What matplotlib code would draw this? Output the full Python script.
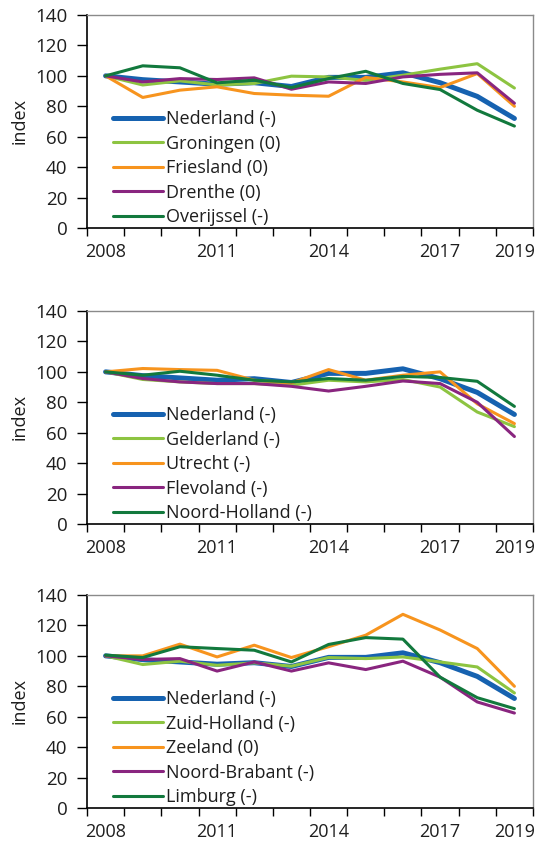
import numpy as np
import matplotlib
matplotlib.use("Agg")
import matplotlib.pyplot as plt

plt.rcParams['font.family'] = ['Open Sans', 'DejaVu Sans']

years = list(range(2008, 2020))
year_labels = ['2008', '2011', '2014', '2017', '2019']

nederland = [100, 97.5, 96, 94.5, 95.5, 93, 99, 99, 102, 95.5, 86.5, 72]

# panel 1
groningen = [100, 94, 96.7, 94, 95, 99.8, 99.3, 97, 100.4, 104.4, 108, 92]
friesland = [100, 85.8, 90.6, 92.8, 88.4, 87.3, 86.6, 99, 96, 92.3, 101.5, 80]
drenthe = [100, 96, 98.2, 97.6, 98.7, 91.2, 96, 95, 99.3, 101, 102, 82]
overijssel = [100, 106.6, 105.3, 95.4, 97.2, 92.3, 98.2, 103, 95, 91, 77.4, 67]

# panel 2
gelderland = [100, 95, 93.4, 92.3, 92.3, 91.2, 94.5, 93.4, 95, 90, 73.6, 64]
utrecht = [100, 102.2, 101.5, 101, 94.5, 92.7, 101.5, 94.5, 97.8, 100, 79, 66]
flevoland = [100, 95.6, 93.4, 92.3, 92.3, 90.5, 87.4, 90.5, 94, 92.3, 80, 57.5]
noord_holland = [100, 97.8, 100.4, 97.8, 94.5, 93.4, 95.6, 94.5, 97, 96.3, 93.8, 77.3]

# panel 3
zuid_holland = [100, 94.3, 96.5, 93.8, 95.4, 93.2, 98.9, 98.2, 99.3, 96, 92.7, 75.6]
zeeland = [100, 100, 107.7, 99.3, 107, 98.9, 106, 113.6, 127.3, 117, 104.8, 80]
noord_brabant = [100, 97.6, 98.2, 90, 96, 90, 95.4, 91, 96.5, 86, 69.7, 62.4]
limburg = [100.5, 98.9, 106, 104.8, 103.7, 96, 107.5, 112, 111, 86, 72.5, 65.3]

blue = '#1662B0'
lgreen = '#8DC441'
orange = '#F7941E'
purple = '#89257F'
dgreen = '#12793D'
colors = [blue, lgreen, orange, purple, dgreen]

panels = [
    (['Nederland (-)', 'Groningen (0)', 'Friesland (0)', 'Drenthe (0)', 'Overijssel (-)'],
     [nederland, groningen, friesland, drenthe, overijssel]),
    (['Nederland (-)', 'Gelderland (-)', 'Utrecht (-)', 'Flevoland (-)', 'Noord-Holland (-)'],
     [nederland, gelderland, utrecht, flevoland, noord_holland]),
    (['Nederland (-)', 'Zuid-Holland (-)', 'Zeeland (0)', 'Noord-Brabant (-)', 'Limburg (-)'],
     [nederland, zuid_holland, zeeland, noord_brabant, limburg]),
]

W, H = 545, 842
fig = plt.figure(figsize=(W / 100, H / 100), dpi=100)

tops = [15, 311, 595]
x = np.arange(len(years))
txt = '#1e1e1e'

for (names, series), top in zip(panels, tops):
    ax = fig.add_axes([87 / W, 1 - (top + 213) / H, 446 / W, 213 / H])
    for i, (name, vals) in enumerate(zip(names, series)):
        ax.plot(x, vals, color=colors[i], lw=3.6 if i == 0 else 2.2, label=name,
                solid_capstyle='round', solid_joinstyle='round')
    ax.set_xlim(-0.5, len(years) - 0.5)
    ax.set_ylim(0, 140)
    ax.set_yticks(range(0, 141, 20))
    # boundary ticks without labels, year labels centred on categories
    ax.set_xticks(np.arange(-0.5, len(years), 1), [''] * (len(years) + 1))
    pos = [years.index(int(y)) for y in year_labels]
    ax.set_xticks(pos, year_labels, minor=True)
    ax.tick_params(axis='x', which='minor', length=0, pad=11, labelsize=13, colors=txt)
    ax.tick_params(axis='x', which='major', length=6, width=1, direction='out')
    ax.tick_params(axis='y', length=7, width=1, pad=7, labelsize=13.5, labelcolor=txt)
    for s in ['top', 'right']:
        ax.spines[s].set_color('#8a8a8a')
        ax.spines[s].set_linewidth(1)
    for s in ['left', 'bottom']:
        ax.spines[s].set_color('black')
        ax.spines[s].set_linewidth(1.2)
    ax.set_ylabel('index', fontsize=13, color=txt, labelpad=5)
    ax.legend(loc='upper left', bbox_to_anchor=(0.058, 0.553), frameon=False,
              fontsize=13, handlelength=2.75, handletextpad=0.2, labelspacing=0.36,
              borderpad=0, borderaxespad=0, labelcolor=txt)

fig.savefig('out.png', dpi=100)
